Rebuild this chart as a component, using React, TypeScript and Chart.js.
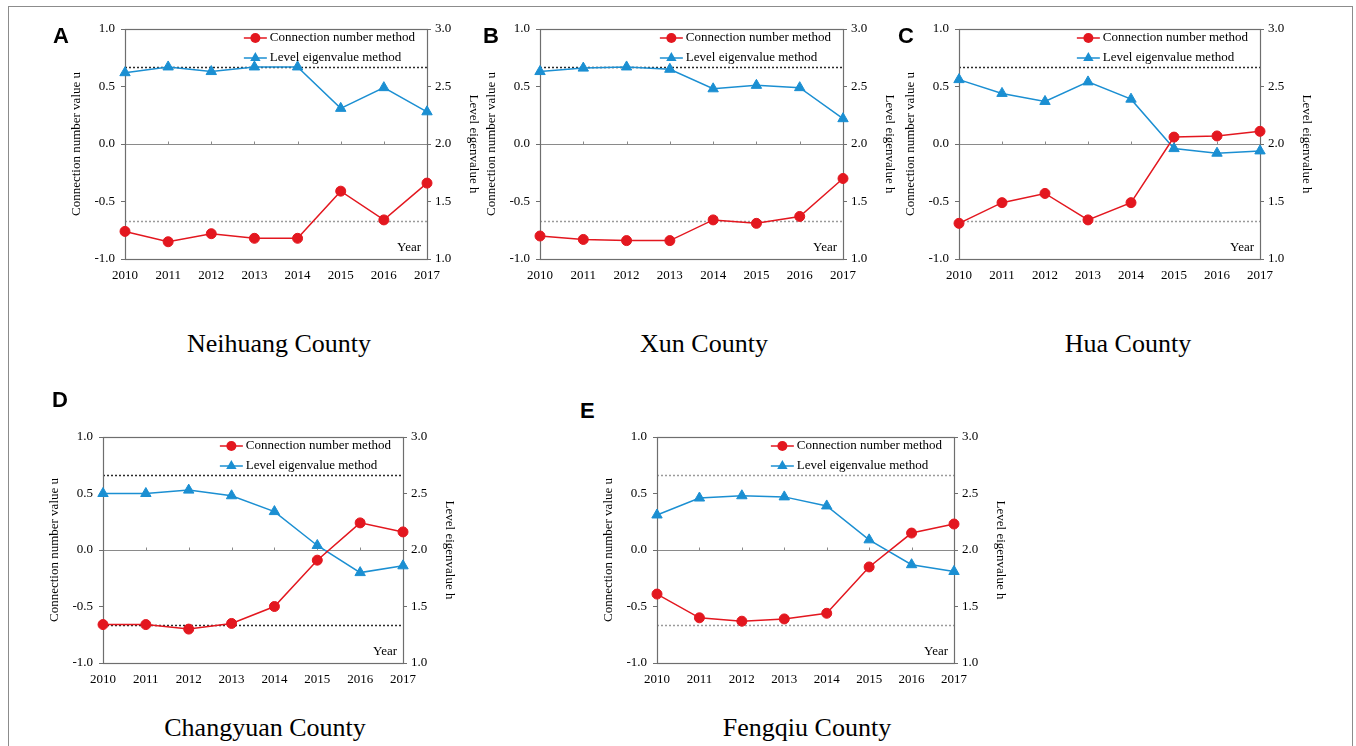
import React, { useEffect, useRef } from "react";
import { Chart, registerables } from "chart.js";

Chart.register(...registerables);

// ---------------- data ----------------
const years = ["2010", "2011", "2012", "2013", "2014", "2015", "2016", "2017"];

const connectionLabel = "Connection number method";
const eigenLabel = "Level eigenvalue method";

// connection number value u (left axis)
const neihuangConnection = [-0.76, -0.85, -0.78, -0.82, -0.82, -0.41, -0.66, -0.34];
const xunConnection = [-0.8, -0.83, -0.84, -0.84, -0.66, -0.69, -0.63, -0.3];
const huaConnection = [-0.69, -0.51, -0.43, -0.66, -0.51, 0.06, 0.07, 0.11];
const changyuanConnection = [-0.66, -0.66, -0.7, -0.65, -0.5, -0.09, 0.24, 0.16];
const fengqiuConnection = [-0.39, -0.6, -0.63, -0.61, -0.56, -0.15, 0.15, 0.23];

// level eigenvalue h (right axis)
const neihuangEigen = [2.62, 2.67, 2.63, 2.67, 2.67, 2.31, 2.49, 2.28];
const xunEigen = [2.63, 2.66, 2.67, 2.65, 2.48, 2.51, 2.49, 2.22];
const huaEigen = [2.56, 2.44, 2.37, 2.54, 2.39, 1.96, 1.92, 1.94];
const changyuanEigen = [2.5, 2.5, 2.53, 2.48, 2.34, 2.04, 1.8, 1.86];
const fengqiuEigen = [2.31, 2.46, 2.48, 2.47, 2.39, 2.09, 1.87, 1.81];

// grade thresholds on the u axis (dotted lines)
const gradeThresholds = [0.667, -0.667];

const leftAxisTitle = "Connection number value u";
const rightAxisTitle = "Level eigenvalue h";

// ---------------- styles / layout ----------------
const SERIF = "'Liberation Serif', 'Times New Roman', Times, serif";
const SANS = "'Liberation Sans', Arial, Helvetica, sans-serif";
const RED = "#e3171f";
const BLUE = "#1b8fd2";
const DARK_DOT = "#2a2a2a";
const LIGHT_DOT = "#9a9a9a";

const PAD_L = 72;
const PAD_R = 72;
const PAD_T = 14;
const PAD_B = 32;

const panels = [
  { letter: "A", caption: "Neihuang County", u: neihuangConnection, h: neihuangEigen,
    L: 125, R: 427, T: 29, B: 259, lx: 53, ly: 25, cx: 279, cy: 331, dots: [DARK_DOT, LIGHT_DOT] },
  { letter: "B", caption: "Xun County", u: xunConnection, h: xunEigen,
    L: 540, R: 843, T: 29, B: 259, lx: 483, ly: 25, cx: 704, cy: 331, dots: [DARK_DOT, LIGHT_DOT] },
  { letter: "C", caption: "Hua County", u: huaConnection, h: huaEigen,
    L: 959, R: 1260, T: 29, B: 259, lx: 898, ly: 25, cx: 1128, cy: 331, dots: [DARK_DOT, LIGHT_DOT] },
  { letter: "D", caption: "Changyuan County", u: changyuanConnection, h: changyuanEigen,
    L: 103, R: 403, T: 437, B: 663, lx: 52, ly: 389, cx: 265, cy: 715, dots: [DARK_DOT, DARK_DOT] },
  { letter: "E", caption: "Fengqiu County", u: fengqiuConnection, h: fengqiuEigen,
    L: 657, R: 954, T: 437, B: 663, lx: 580, ly: 400, cx: 807, cy: 715, dots: [LIGHT_DOT, LIGHT_DOT] },
];

Chart.defaults.font.family = SERIF;
Chart.defaults.color = "#000";

function drawMarker(ctx: CanvasRenderingContext2D, style: string, x: number, y: number, r: number) {
  ctx.beginPath();
  if (style === "triangle") {
    let rad = 0;
    ctx.moveTo(x + Math.sin(rad) * r, y - Math.cos(rad) * r);
    rad += (2 * Math.PI) / 3;
    ctx.lineTo(x + Math.sin(rad) * r, y - Math.cos(rad) * r);
    rad += (2 * Math.PI) / 3;
    ctx.lineTo(x + Math.sin(rad) * r, y - Math.cos(rad) * r);
    ctx.closePath();
  } else {
    ctx.arc(x, y, r, 0, Math.PI * 2);
  }
  ctx.fill();
}

const decorPlugin = {
  id: "decor",
  beforeDatasetsDraw(chart: any, _args: any, opts: any) {
    const { ctx, chartArea: a, scales } = chart;
    const y = scales.y;
    const x = scales.x;
    ctx.save();
    // threshold dotted lines
    ctx.lineWidth = 1.5;
    ctx.setLineDash([2, 2]);
    (opts.thresholds || []).forEach((v: number, i: number) => {
      const py = Math.round(y.getPixelForValue(v)) + 0.5;
      ctx.strokeStyle = opts.dotColors[i];
      ctx.beginPath();
      ctx.moveTo(a.left, py);
      ctx.lineTo(a.right, py);
      ctx.stroke();
    });
    ctx.setLineDash([]);
    // small tick marks on the zero line
    const zy = Math.round(y.getPixelForValue(0)) + 0.5;
    ctx.strokeStyle = "#8a8a8a";
    ctx.lineWidth = 1;
    for (let i = 1; i < chart.data.labels.length - 1; i++) {
      const px = Math.round(x.getPixelForValue(i)) + 0.5;
      ctx.beginPath();
      ctx.moveTo(px, zy);
      ctx.lineTo(px, zy - 3);
      ctx.stroke();
    }
    // plot frame
    ctx.strokeStyle = "#6e6e6e";
    ctx.lineWidth = 1.2;
    ctx.strokeRect(a.left + 0.5, a.top + 0.5, a.right - a.left, a.bottom - a.top);
    ctx.restore();
  },
  afterDatasetsDraw(chart: any) {
    const { ctx, chartArea: a } = chart;
    ctx.save();
    ctx.font = `13px ${SERIF}`;
    ctx.textBaseline = "middle";
    ctx.fillStyle = "#000";
    const ds = chart.data.datasets;
    const widths = ds.map((d: any) => ctx.measureText(d.label).width);
    const maxW = Math.max(...widths);
    const textX = a.right - 12 - maxW;
    ds.forEach((d: any, i: number) => {
      const cy = a.top + 9 + i * 20;
      ctx.strokeStyle = d.borderColor;
      ctx.fillStyle = d.borderColor;
      ctx.lineWidth = 1.5;
      ctx.beginPath();
      ctx.moveTo(textX - 26, cy);
      ctx.lineTo(textX - 3, cy);
      ctx.stroke();
      drawMarker(ctx, d.pointStyle, textX - 14.5, cy, d.pointStyle === "triangle" ? 6 : 5);
      ctx.fillStyle = "#000";
      ctx.textAlign = "left";
      ctx.fillText(d.label, textX, cy);
    });
    ctx.textAlign = "right";
    ctx.fillText("Year", a.right - 6, a.bottom - 11);
    ctx.restore();
  },
};

type Spec = (typeof panels)[number];

function PanelChart({ spec }: { spec: Spec }) {
  const ref = useRef<HTMLCanvasElement | null>(null);
  const W = spec.R - spec.L + PAD_L + PAD_R;
  const H = spec.B - spec.T + PAD_T + PAD_B;

  useEffect(() => {
    const tickFont = { family: SERIF, size: 13 };
    const chart = new Chart(ref.current as HTMLCanvasElement, {
      type: "line",
      data: {
        labels: years,
        datasets: [
          {
            label: connectionLabel,
            data: spec.u,
            yAxisID: "y",
            borderColor: RED,
            backgroundColor: RED,
            pointBackgroundColor: RED,
            pointBorderColor: RED,
            pointStyle: "circle",
            pointRadius: 5,
            pointBorderWidth: 1,
            borderWidth: 1.5,
            tension: 0,
            clip: false,
          } as any,
          {
            label: eigenLabel,
            data: spec.h,
            yAxisID: "y2",
            borderColor: BLUE,
            backgroundColor: BLUE,
            pointBackgroundColor: BLUE,
            pointBorderColor: BLUE,
            pointStyle: "triangle",
            pointRadius: 6,
            pointBorderWidth: 1,
            borderWidth: 1.5,
            tension: 0,
            clip: false,
          } as any,
        ],
      },
      options: {
        responsive: false,
        animation: false,
        devicePixelRatio: 1,
        layout: { padding: { top: PAD_T, left: 0, right: 0, bottom: 0 } },
        plugins: {
          legend: { display: false },
          tooltip: { enabled: false },
          decor: { thresholds: gradeThresholds, dotColors: spec.dots },
        } as any,
        scales: {
          x: {
            type: "category",
            offset: false,
            grid: { display: false },
            border: { display: false },
            ticks: { font: tickFont, color: "#000", padding: 1, maxRotation: 0, autoSkip: false },
            afterFit: (s: any) => {
              s.height = PAD_B;
            },
          },
          y: {
            type: "linear",
            position: "left",
            min: -1,
            max: 1,
            ticks: {
              stepSize: 0.5,
              font: tickFont,
              color: "#000",
              padding: 6,
              callback: (v: any) => Number(v).toFixed(1),
            },
            grid: {
              drawOnChartArea: true,
              drawTicks: true,
              tickLength: 4,
              tickColor: "#6e6e6e",
              color: (c: any) => (c.tick && Math.abs(c.tick.value) < 1e-9 ? "#8a8a8a" : "rgba(0,0,0,0)"),
              lineWidth: 1,
            },
            border: { display: false },
            title: {
              display: true,
              text: leftAxisTitle,
              font: { family: SERIF, size: 13 },
              color: "#000",
              padding: { top: 16, bottom: 0 },
            },
            afterFit: (s: any) => {
              s.width = PAD_L;
            },
          },
          y2: {
            type: "linear",
            position: "right",
            min: 1,
            max: 3,
            ticks: {
              stepSize: 0.5,
              font: tickFont,
              color: "#000",
              padding: 4,
              callback: (v: any) => Number(v).toFixed(1),
            },
            grid: {
              drawOnChartArea: false,
              drawTicks: true,
              tickLength: 4,
              tickColor: "#6e6e6e",
            },
            border: { display: false },
            title: {
              display: true,
              text: rightAxisTitle,
              font: { family: SERIF, size: 13 },
              color: "#000",
              padding: { top: 18, bottom: 0 },
            },
            afterFit: (s: any) => {
              s.width = PAD_R;
            },
          },
        },
      } as any,
      plugins: [decorPlugin],
    });
    return () => chart.destroy();
  }, []);

  return (
    <canvas
      ref={ref}
      width={W}
      height={H}
      style={{ position: "absolute", left: spec.L - PAD_L, top: spec.T - PAD_T, width: W, height: H }}
    />
  );
}

export default function App() {
  return (
    <div
      style={{
        position: "absolute",
        left: 0,
        top: 0,
        width: 1356,
        height: 746,
        background: "#fff",
        overflow: "hidden",
      }}
    >
      <div
        style={{
          position: "absolute",
          left: 8,
          top: 6,
          width: 1345,
          height: 800,
          border: "1.5px solid #8c8c8c",
          boxSizing: "border-box",
        }}
      />
      {panels.map((p) => (
        <React.Fragment key={p.letter}>
          <PanelChart spec={p} />
          <div
            style={{
              position: "absolute",
              left: p.lx,
              top: p.ly,
              font: `bold 22px ${SANS}`,
              lineHeight: "22px",
              color: "#000",
            }}
          >
            {p.letter}
          </div>
          <div
            style={{
              position: "absolute",
              left: p.cx,
              top: p.cy,
              transform: "translateX(-50%)",
              font: `26px ${SERIF}`,
              lineHeight: "26px",
              whiteSpace: "nowrap",
              color: "#000",
            }}
          >
            {p.caption}
          </div>
        </React.Fragment>
      ))}
    </div>
  );
}
